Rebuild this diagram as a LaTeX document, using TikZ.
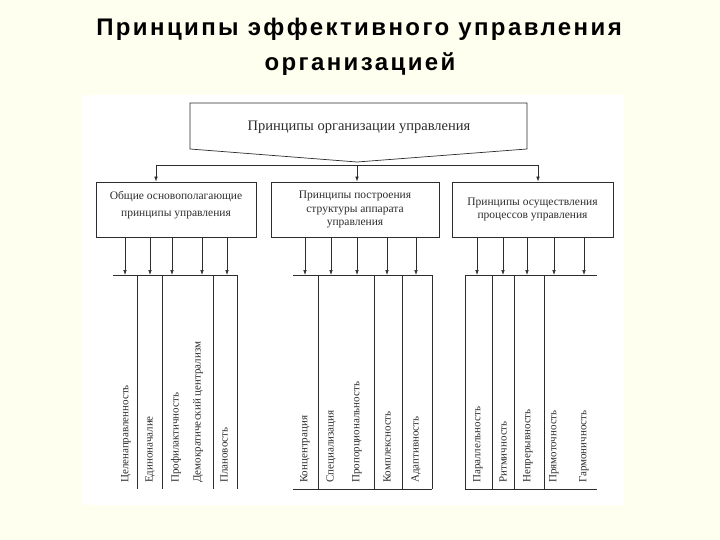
\documentclass[tikz,border=0pt]{standalone}
\usepackage{fontspec}
\setmainfont{Liberation Serif}
\newfontfamily\titlefont[LetterSpace=10]{Liberation Sans}
\usetikzlibrary{arrows.meta}
\definecolor{slidebg}{RGB}{255,255,240}
\definecolor{inkc}{RGB}{45,45,45}
\begin{document}
\begin{tikzpicture}[x=1pt,y=-1pt,
  ln/.style={draw=inkc, line width=0.7pt},
  arr/.style={ln, -{Latex[length=5pt,width=3.6pt]}},
  box/.style={ln, fill=white, inner sep=2pt, align=center, text=inkc,
    font=\fontsize{11.5}{13.5}\selectfont},
  coltext/.style={rotate=90, anchor=west, inner sep=0pt, text=inkc,
    font=\fontsize{11}{12}\selectfont},
  titletext/.style={anchor=base, inner sep=0pt,
    font=\titlefont\bfseries\fontsize{24}{28}\selectfont}
  ]
\fill[slidebg] (0,0) rectangle (720,540);
\useasboundingbox (0,0) rectangle (720,540);
\fill[white] (81,95) rectangle (624,505);

% title
\node[titletext] (title1) at (359,36) {Принципы эффективного управления};
\node[titletext] (title2) at (360,71) {организацией};

% top pentagon
\draw[ln, fill=white] (190,103) -- (527,103) -- (527,149) -- (357,162) -- (190,149) -- cycle;
\node[text=inkc, font=\fontsize{14.5}{16}\selectfont] (top) at (359,127) {Принципы организации управления};
\coordinate (tip) at (357,162);

% second level boxes
\node[box, minimum width=160pt, minimum height=55pt] (b1) at (176,209.5) {};
\node[box, draw=none, fill=none, anchor=center] (b1t) at (176,205)
  {Общие основополагающие\\[4pt]принципы управления};
\node[box, minimum width=168pt, minimum height=55pt] (b2) at (355,209.5)
  {Принципы построения\\структуры аппарата\\управления};
\node[box, minimum width=161pt, minimum height=55pt] (b3) at (532.5,209.5)
  {Принципы осуществления\\процессов управления};

% distribution line
\coordinate (hl) at (156,165);
\coordinate (hm) at (357,165);
\coordinate (hr) at (538,165);
\draw[ln] (hl) -- (hr);
\draw[arr] (hl) -- (hl |- b1.north);
\draw[arr] (hm) -- (hm |- b2.north);
\draw[arr] (hr) -- (hr |- b3.north);

% arrows to tables
\foreach \x [count=\i] in {125,150,172,202,227}{
  \coordinate (ta\i) at (\x,275);
  \draw[arr] (ta\i |- b1.south) -- (ta\i);
}
\foreach \x [count=\i] in {305,331,357,387,416}{
  \coordinate (tb\i) at (\x,275);
  \draw[arr] (tb\i |- b2.south) -- (tb\i);
}
\foreach \x [count=\i] in {477,503,527,554,584}{
  \coordinate (tc\i) at (\x,275);
  \draw[arr] (tc\i |- b3.south) -- (tc\i);
}

% table 1
\draw[ln] (113,275) -- (237,275);
\foreach \x in {137,162,213,237}{ \draw[ln] (\x,275) -- (\x,489); }
% table 2
\draw[ln] (293,275) -- (432,275);
\draw[ln] (293,489) -- (432,489);
\foreach \x in {318,374,402,432}{ \draw[ln] (\x,275) -- (\x,489); }
% table 3
\draw[ln] (465,275) -- (597,275);
\draw[ln] (465,489) -- (597,489);
\foreach \x in {465,492,514,544}{ \draw[ln] (\x,275) -- (\x,489); }

% column texts
\node[coltext] (p1) at (126,483) {Целенаправленность};
\node[coltext] (p2) at (150,483) {Единоначалие};
\node[coltext] (p3) at (176,483) {Профилактичность};
\node[coltext] (p4) at (198,483) {Демократический централизм};
\node[coltext] (p5) at (224,483) {Плановость};

\node[coltext] (s1) at (305,483) {Концентрация};
\node[coltext] (s2) at (331,483) {Специализация};
\node[coltext] (s3) at (357,483) {Пропорциональность};
\node[coltext] (s4) at (387,483) {Комплексность};
\node[coltext] (s5) at (416,483) {Адаптивность};

\node[coltext] (r1) at (478,483) {Параллельность};
\node[coltext] (r2) at (503,483) {Ритмичность};
\node[coltext] (r3) at (528,483) {Непрерывность};
\node[coltext] (r4) at (554,483) {Прямоточность};
\node[coltext] (r5) at (584,483) {Гармоничность};
\end{tikzpicture}
\end{document}
